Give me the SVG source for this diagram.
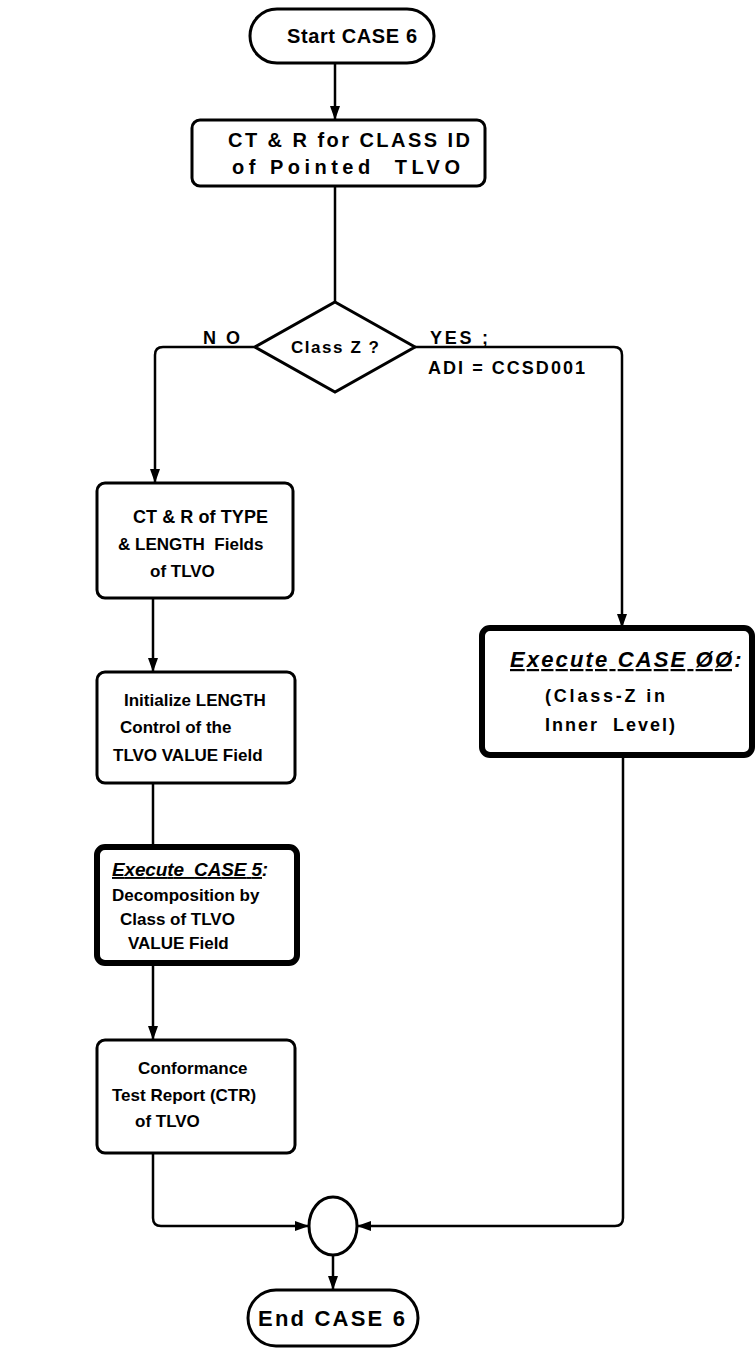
<svg xmlns="http://www.w3.org/2000/svg" width="756" height="1358" viewBox="0 0 756 1358">
  <style>
    .box { fill: #fff; stroke: #000; stroke-width: 3; }
    .thick { fill: #fff; stroke: #000; stroke-width: 6; }
    .line { fill: none; stroke: #000; stroke-width: 2.5; }
    text { font-family: "Liberation Sans", "Arial", sans-serif; font-weight: bold; font-size: 17px; fill: #000; }
    .m { font-size: 18px; }
    .big { font-size: 20px; }
    .em { font-style: italic; font-size: 19px; }
    .em2 { font-style: italic; font-size: 22px; }
  </style>
  <defs>
    <marker id="arrow" viewBox="0 0 14 10" refX="14" refY="5" markerWidth="14" markerHeight="10" orient="auto" markerUnits="userSpaceOnUse">
      <path d="M0,0 L14,5 L0,10 Z" fill="#000"/>
    </marker>
  </defs>

  <g id="connectors">
    <path class="line" d="M335,63 V120" marker-end="url(#arrow)"/>
    <path class="line" d="M335,186 V302"/>
    <path class="line" d="M255,347 H163 Q155,347 155,355 V483" marker-end="url(#arrow)"/>
    <path class="line" d="M415,347 H614 Q622,347 622,355 V628" marker-end="url(#arrow)"/>
    <path class="line" d="M153,598 V672" marker-end="url(#arrow)"/>
    <path class="line" d="M153,783 V847"/>
    <path class="line" d="M153,963 V1040" marker-end="url(#arrow)"/>
    <path class="line" d="M153,1153 V1218 Q153,1226 161,1226 H309" marker-end="url(#arrow)"/>
    <path class="line" d="M623,755 V1218 Q623,1226 615,1226 H357" marker-end="url(#arrow)"/>
    <path class="line" d="M333,1255 V1290" marker-end="url(#arrow)"/>
  </g>

  <g id="start">
    <rect class="box" x="250" y="9" width="184" height="54" rx="27"/>
    <text class="big" x="287" y="43" textLength="130">Start CASE 6</text>
  </g>

  <g id="classid">
    <rect class="box" x="192" y="120" width="293" height="66" rx="8"/>
    <text class="big" x="228" y="147" textLength="242">CT &amp; R for CLASS ID</text>
    <text class="big" x="232" y="174" textLength="228" xml:space="preserve">of Pointed  TLVO</text>
  </g>

  <g id="decision">
    <polygon class="box" points="335,302 415,347 335,392 255,347"/>
    <text x="291" y="353" textLength="88">Class Z ?</text>
    <text class="m" x="203" y="344" textLength="37">NO</text>
    <text class="m" x="430" y="344" textLength="58">YES ;</text>
    <text class="m" x="428" y="374" textLength="157">ADI = CCSD001</text>
  </g>

  <g id="typelength">
    <rect class="box" x="97" y="483" width="196" height="115" rx="8"/>
    <text class="m" x="133" y="523" textLength="135">CT &amp; R of TYPE</text>
    <text x="118" y="550" xml:space="preserve">&amp; LENGTH  Fields</text>
    <text x="150" y="577">of TLVO</text>
  </g>

  <g id="initlength">
    <rect class="box" x="97" y="672" width="198" height="111" rx="8"/>
    <text x="124" y="706">Initialize LENGTH</text>
    <text x="120" y="733">Control of the</text>
    <text x="113" y="761">TLVO VALUE Field</text>
  </g>

  <g id="case5">
    <rect class="thick" x="97" y="847" width="200" height="116" rx="8"/>
    <text x="112" y="876"><tspan class="em" text-decoration="underline" textLength="150" xml:space="preserve">Execute  CASE 5</tspan><tspan class="em">:</tspan></text>
    <text x="112" y="901">Decomposition by</text>
    <text x="120" y="925">Class of TLVO</text>
    <text x="128" y="949">VALUE Field</text>
  </g>

  <g id="report">
    <rect class="box" x="97" y="1040" width="198" height="113" rx="8"/>
    <text x="138" y="1074">Conformance</text>
    <text x="112" y="1101">Test Report (CTR)</text>
    <text x="135" y="1127">of TLVO</text>
  </g>

  <g id="case00">
    <rect class="thick" x="482" y="628" width="270" height="127" rx="8"/>
    <text x="510" y="667"><tspan class="em2" text-decoration="underline" textLength="222">Execute CASE ØØ</tspan><tspan class="em2">:</tspan></text>
    <text class="m" x="545" y="702" textLength="120">(Class-Z in</text>
    <text class="m" x="545" y="731" textLength="130" xml:space="preserve">Inner  Level)</text>
  </g>

  <g id="join">
    <ellipse class="box" cx="333" cy="1226" rx="24" ry="29"/>
  </g>

  <g id="end">
    <rect class="box" x="248" y="1290" width="170" height="56" rx="28"/>
    <text class="big" x="258" y="1326" textLength="147" style="font-size:22px">End CASE 6</text>
  </g>
</svg>
